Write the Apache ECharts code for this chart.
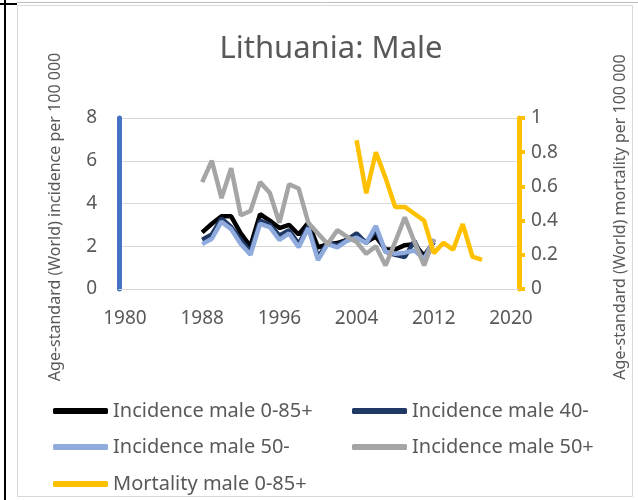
<!DOCTYPE html>
<html>
<head>
<meta charset="utf-8">
<script src="https://cdn.jsdelivr.net/npm/echarts@6/dist/echarts.min.js"></script>
<style>
  html, body { margin: 0; padding: 0; background: #fff; }
  #chart { width: 638px; height: 500px; }
</style>
</head>
<body>
<div id="chart"></div>
<script>
// years for the incidence series and the mortality series
var incYears = [1988, 1989, 1990, 1991, 1992, 1993, 1994, 1995, 1996, 1997, 1998, 1999, 2000,
    2001, 2002, 2003, 2004, 2005, 2006, 2007, 2008, 2009, 2010, 2011, 2012];
var mortYears = [2004, 2005, 2006, 2007, 2008, 2009, 2010, 2011, 2012, 2013, 2014, 2015, 2016, 2017];

var incAll = [2.65, 3.05, 3.4, 3.4, 2.6, 2.0, 3.5, 3.2, 2.85, 3.0, 2.55, 3.1, 1.95,
    2.1, 2.15, 2.3, 2.45, 2.2, 2.45, 1.85, 1.85, 2.05, 2.1, 1.55, 2.2];
var inc40 = [2.3, 2.55, 3.3, 2.9, 2.3, 1.75, 3.2, 3.0, 2.5, 2.75, 2.1, 2.95, 1.5,
    2.15, 2.05, 2.3, 2.6, 2.15, 2.75, 1.75, 1.6, 1.5, 2.25, 1.25, 2.3];
var inc50minus = [2.1, 2.35, 3.15, 2.8, 2.1, 1.6, 3.05, 2.9, 2.3, 2.6, 1.95, 2.85, 1.35,
    2.1, 1.95, 2.25, 2.4, 2.15, 2.95, 1.75, 1.65, 1.7, 1.8, 1.4, 2.3];
var inc50plus = [5.0, 6.0, 4.25, 5.65, 3.45, 3.65, 5.0, 4.5, 3.1, 4.9, 4.7, 3.1, 2.6,
    2.1, 2.75, 2.45, 2.2, 1.65, 2.0, 1.1, 2.2, 3.35, 2.2, 1.1, 2.35];
var mortAll = [0.87, 0.56, 0.80, 0.65, 0.48, 0.48, 0.44, 0.40, 0.21, 0.27, 0.23, 0.38, 0.19, 0.17];

var xTicks = [1980, 1988, 1996, 2004, 2012, 2020];

var names = ['Incidence male 0-85+', 'Incidence male 40-', 'Incidence male 50-',
    'Incidence male 50+', 'Mortality male 0-85+'];
var colors = ['#000000', '#203864', '#8FAADC', '#A5A5A5', '#FFC000'];

var font = '"Noto Sans", sans-serif';
var textColor = '#595959';

function pairs(xs, ys) {
    return xs.map(function (x, i) { return [x, ys[i]]; });
}

function makeSeries(idx, xs, ys, axis) {
    return {
        name: names[idx],
        type: 'line',
        yAxisIndex: axis,
        data: pairs(xs, ys),
        symbol: 'none',
        color: colors[idx],
        lineStyle: { width: 4.5, color: colors[idx] },
        animation: false
    };
}

// one legend per item, laid out like the excel legend (2 columns)
var legendPos = [[53, 409], [352, 409], [53, 445], [352, 445], [53, 482]];
var legends = names.map(function (n, i) {
    return {
        data: [n],
        left: legendPos[i][0],
        top: legendPos[i][1] - 8,
        padding: 0,
        icon: 'roundRect',
        itemWidth: 55,
        itemHeight: 6,
        textStyle: { fontFamily: font, fontSize: 20, color: textColor },
        selectedMode: false
    };
});

var myChart = echarts.init(document.getElementById('chart'));

var option = {
    animation: false,
    title: {
        text: 'Lithuania: Male',
        left: 326,
        textAlign: 'center',
        top: 29,
        textStyle: { fontFamily: font, fontSize: 31, fontWeight: 'normal', color: textColor }
    },
    legend: legends,
    grid: { left: 119, right: 119, top: 118, bottom: 211 },
    xAxis: {
        type: 'value',
        min: 1979.38,
        max: 2020.83,
        splitLine: { show: false },
        axisLine: { show: true, lineStyle: { color: '#D9D9D9', width: 1 } },
        axisTick: { show: false },
        axisLabel: {
            customValues: xTicks,
            margin: 20,
            fontFamily: font,
            fontSize: 19,
            color: textColor,
            formatter: function (v) { return String(Math.round(v)); }
        }
    },
    yAxis: [{
        type: 'value',
        min: 0,
        max: 8,
        interval: 2,
        axisLine: { show: true, lineStyle: { color: '#4472C4', width: 5 } },
        axisTick: { show: false },
        splitLine: { lineStyle: { color: '#D9D9D9', width: 1 } },
        axisLabel: { margin: 22, fontFamily: font, fontSize: 19, color: textColor }
    }, {
        type: 'value',
        min: 0,
        max: 1,
        interval: 0.2,
        position: 'right',
        axisLine: { show: true, lineStyle: { color: '#FFC000', width: 5 } },
        axisTick: { show: true, length: 6, lineStyle: { color: '#FFC000', width: 4 } },
        splitLine: { show: false },
        axisLabel: {
            margin: 12, fontFamily: font, fontSize: 19, color: textColor,
            formatter: function (v) { return String(+v.toFixed(1)); }
        }
    }],
    graphic: [
        // chart frame
        { type: 'rect', shape: { x: 17.5, y: 5.5, width: 615, height: 491 },
          style: { fill: null, stroke: '#D9D9D9', lineWidth: 1 }, z: -10 },
        { type: 'line', shape: { x1: 5, y1: 0, x2: 5, y2: 500 },
          style: { stroke: '#000', lineWidth: 2 } },
        { type: 'line', shape: { x1: 0, y1: 4, x2: 17, y2: 4 },
          style: { stroke: '#000', lineWidth: 2 } },
        { type: 'line', shape: { x1: 17, y1: 2.5, x2: 638, y2: 2.5 },
          style: { stroke: '#BFBFBF', lineWidth: 1 } },
        // axis titles
        { type: 'text', x: 55, y: 217, rotation: Math.PI / 2,
          style: { text: 'Age-standard (World) incidence per 100 000', fontFamily: font,
                   fontSize: 16, fill: textColor, align: 'center', verticalAlign: 'middle' } },
        { type: 'text', x: 620, y: 217, rotation: Math.PI / 2,
          style: { text: 'Age-standard (World) mortality per 100 000', fontFamily: font,
                   fontSize: 16, fill: textColor, align: 'center', verticalAlign: 'middle' } }
    ],
    series: [
        makeSeries(0, incYears, incAll, 0),
        makeSeries(1, incYears, inc40, 0),
        makeSeries(2, incYears, inc50minus, 0),
        makeSeries(3, incYears, inc50plus, 0),
        makeSeries(4, mortYears, mortAll, 1)
    ]
};

myChart.setOption(option);
</script>
</body>
</html>
